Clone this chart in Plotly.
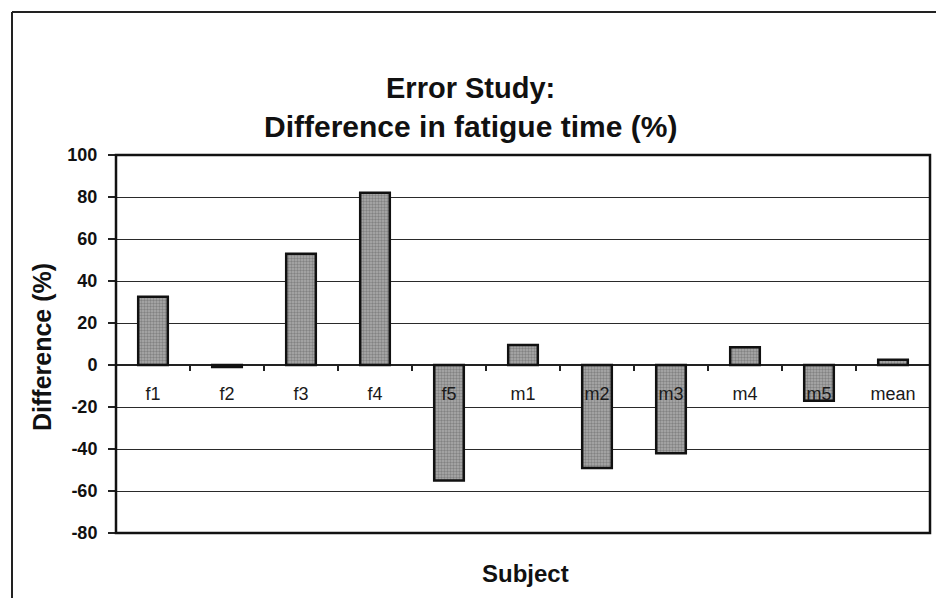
import plotly.graph_objects as go

# Subjects and their difference in fatigue time (%)
subjects = ["f1", "f2", "f3", "f4", "f5", "m1", "m2", "m3", "m4", "m5", "mean"]
difference = [32.5, -1, 53, 82, -55, 9.5, -49, -42, 8.5, -17, 2.5]

y_ticks = [-80, -60, -40, -20, 0, 20, 40, 60, 80, 100]

W, H = 936, 598
L, R, T, B = 116, 6, 155, 65
plot_w = W - L - R
plot_h = H - T - B


def px_x(px):
    return (px - L) / plot_w


def px_y(py):
    return (H - B - py) / plot_h


fig = go.Figure()
fig.add_trace(go.Bar(
    x=subjects,
    y=difference,
    marker=dict(
        color="#969696",
        line=dict(color="#111111", width=2.5),
        pattern=dict(shape=".", size=3, solidity=0.5,
                     fgcolor="#585858", bgcolor="#adadad"),
    ),
    showlegend=False,
))

zero_pos = (0 - y_ticks[0]) / (y_ticks[-1] - y_ticks[0])

fig.update_layout(
    width=W, height=H,
    margin=dict(l=L, r=R, t=T, b=B),
    paper_bgcolor="white",
    plot_bgcolor="white",
    bargap=0.6,
    font=dict(family="Arial, Liberation Sans, sans-serif", color="#111111"),
    xaxis=dict(
        anchor="free",
        position=zero_pos,
        showline=False,
        showgrid=False,
        zeroline=False,
        ticks="outside",
        tickson="boundaries",
        ticklen=5,
        tickwidth=1.5,
        tickcolor="#222222",
        ticklabelstandoff=16,
        tickfont=dict(size=18, color="#1a1a1a"),
        layer="above traces",
    ),
    yaxis=dict(
        range=[y_ticks[0], y_ticks[-1]],
        tickvals=y_ticks,
        ticktext=[str(v) for v in y_ticks],
        showgrid=True,
        gridcolor="#2a2a2a",
        gridwidth=1.2,
        zeroline=True,
        zerolinecolor="#222222",
        zerolinewidth=1.5,
        showline=False,
        ticks="outside",
        ticklen=7,
        tickwidth=1.5,
        tickcolor="#222222",
        ticklabelstandoff=7,
        tickfont=dict(size=18, color="#111111", weight="bold"),
    ),
    shapes=[
        # plot-area frame
        dict(type="rect", xref="paper", yref="paper", x0=0, x1=1, y0=0, y1=1,
             line=dict(color="#111111", width=2.5), layer="above"),
        # outer chart border (left and top)
        dict(type="line", xref="paper", yref="paper",
             x0=px_x(12), x1=px_x(12), y0=px_y(12), y1=px_y(600),
             line=dict(color="#222222", width=2)),
        dict(type="line", xref="paper", yref="paper",
             x0=px_x(12), x1=px_x(940), y0=px_y(12), y1=px_y(12),
             line=dict(color="#222222", width=2)),
    ],
    annotations=[
        dict(text="<b>Error Study:</b>", xref="paper", yref="paper",
             x=px_x(470), y=px_y(88), xanchor="center", yanchor="middle",
             showarrow=False, font=dict(size=29, color="#111111")),
        dict(text="<b>Difference in fatigue time (%)</b>", xref="paper", yref="paper",
             x=px_x(470), y=px_y(127), xanchor="center", yanchor="middle",
             showarrow=False, font=dict(size=30, color="#111111")),
        dict(text="<b>Difference (%)</b>", xref="paper", yref="paper",
             x=px_x(42), y=px_y(347), xanchor="center", yanchor="middle",
             textangle=-90, showarrow=False, font=dict(size=25, color="#111111")),
        dict(text="<b>Subject</b>", xref="paper", yref="paper",
             x=px_x(525), y=px_y(573), xanchor="center", yanchor="middle",
             showarrow=False, font=dict(size=24, color="#111111")),
    ],
)

fig.write_html("out.html")
